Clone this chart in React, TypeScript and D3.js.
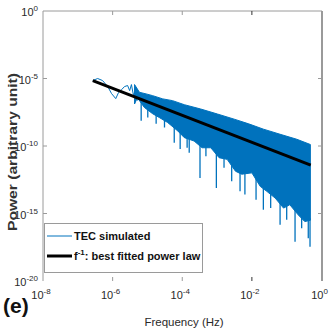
import React from "react";
import * as d3 from "d3";

const W = 332;
const H = 332;
const M = { top: 11, right: 10, bottom: 51, left: 43 };

// x: log10 of frequency (Hz), y: log10 of power
const xTickExp = [-8, -6, -4, -2, 0];
const yTickExp = [0, -5, -10, -15, -20];

// low-frequency part of the simulated spectrum (thin trace)
const traceLogF = [-6.57, -6.43, -6.29, -6.14, -6.03, -5.91, -5.83, -5.74, -5.66, -5.57, -5.51, -5.46, -5.4, -5.34, -5.29];
const traceLogP = [-5.15, -5.0, -5.15, -5.6, -6.12, -6.49, -6.04, -5.82, -5.6, -5.52, -5.9, -5.45, -6.27, -5.75, -6.64];

// dense part: upper edge of the band
const upperLogF = [-5.37, -5.23, -5.04, -4.85, -4.56, -4.28, -3.94, -3.47, -2.99, -2.51, -2.09, -1.67, -1.19, -0.71, -0.32];
const upperLogP = [-5.45, -6.02, -6.14, -6.27, -6.51, -6.64, -6.94, -7.26, -7.63, -8.01, -8.36, -8.75, -9.13, -9.5, -9.89];

// dense part: lower edge of the solid body
const bodyLogF = [-5.37, -5.29, -5.09, -4.85, -4.66, -4.42, -4.13, -3.94, -3.66, -3.43, -3.18, -2.94, -2.71, -2.47,
  -2.29, -2.0, -1.76, -1.57, -1.33, -1.09, -0.91, -0.67, -0.48, -0.32];
const bodyLogP = [-6.89, -6.42, -7.14, -7.61, -7.89, -8.26, -8.88, -9.38, -9.63, -10.13, -10.13, -10.87, -10.99, -11.87,
  -12.09, -11.99, -12.99, -13.36, -13.86, -14.6, -14.35, -15.1, -15.6, -15.5];

// downward spikes below the body (tips)
const spikeLogF = [-5.18, -4.99, -4.75, -4.51, -4.23, -4.06, -3.86, -3.8, -3.49, -3.32, -3.02, -2.8, -2.58, -2.34, -2.2,
  -1.88, -1.67, -1.46, -1.19, -1.0, -0.76, -0.57, -0.38, -0.33];
const spikeLogP = [-8.13, -7.89, -8.36, -8.63, -9.75, -10.22, -10.13, -10.5, -12.37, -10.75, -13.11, -11.62, -12.61, -13.36, -13.6,
  -13.98, -14.72, -14.6, -15.84, -15.47, -17.09, -16.1, -16.84, -17.46];

// f^-1 best fit, end points
const fitLogF = [-6.57, -0.31];
const fitLogP = [-5.15, -11.41];

const BLUE = "#0072BD";
const AXIS = "#9a9a9a";
const TXT = "#2a2a2a";
const FONT = "'Liberation Sans', Arial, sans-serif";

const toPts = (fs: number[], ps: number[]) => fs.map((f, i) => ({ f: Math.pow(10, f), p: Math.pow(10, ps[i]) }));

export default function App() {
  const x = d3.scaleLog().domain([1e-8, 1]).range([M.left, W - M.right - 0.5]);
  const y = d3.scaleLog().domain([1e-20, 1]).range([H - M.bottom, M.top]);

  const line = d3.line<{ f: number; p: number }>().x(d => x(d.f)).y(d => y(d.p));

  const trace = toPts(traceLogF, traceLogP);
  const upper = toPts(upperLogF, upperLogP);
  const body = toPts(bodyLogF, bodyLogP);
  const band = line([...upper, ...body.slice().reverse()]) + "Z";
  const spikes = toPts(spikeLogF, spikeLogP);
  const fit = toPts(fitLogF, fitLogP);

  // body edge height at a frequency
  const bodyY = (f: number) => {
    const lf = Math.log10(f);
    for (let i = 1; i < bodyLogF.length; i++) {
      if (lf <= bodyLogF[i]) {
        const t = (lf - bodyLogF[i - 1]) / (bodyLogF[i] - bodyLogF[i - 1]);
        return y(Math.pow(10, bodyLogP[i - 1] + t * (bodyLogP[i] - bodyLogP[i - 1])));
      }
    }
    return y(Math.pow(10, bodyLogP[bodyLogP.length - 1]));
  };

  const x0 = M.left, x1 = W - M.right, yTop = M.top, yBot = H - M.bottom;
  const tk = 4;

  return (
    <svg width={W} height={H} style={{ position: "absolute", left: 0, top: 0, background: "#fff" }} fontFamily={FONT}>
      {/* data */}
      <path d={band} fill={BLUE} stroke={BLUE} strokeWidth={1} strokeLinejoin="round" />
      {spikes.map((d, i) => (
        <line key={i} x1={x(d.f)} x2={x(d.f)} y1={bodyY(d.f) - 2} y2={y(d.p)} stroke={BLUE} strokeWidth={1.3} />
      ))}
      <path d={line(trace) || ""} fill="none" stroke={BLUE} strokeWidth={1} />
      <path d={line(fit) || ""} fill="none" stroke="#000" strokeWidth={3} />

      {/* frame (no bottom line, as in the figure) */}
      <line x1={x0} x2={x0} y1={yTop} y2={yBot} stroke={AXIS} strokeWidth={1} />
      <line x1={x0} x2={x1} y1={yTop} y2={yTop} stroke={AXIS} strokeWidth={1} />
      <line x1={x1} x2={x1} y1={yTop} y2={yBot} stroke={AXIS} strokeWidth={2} />

      {/* x ticks */}
      {xTickExp.map(e => {
        const px = x(Math.pow(10, e));
        return (
          <g key={"x" + e}>
            {e > -8 && e < 0 && (
              <>
                <line x1={px} x2={px} y1={yTop} y2={yTop + tk} stroke={e === -2 ? "#333" : AXIS} />
                <line x1={px} x2={px} y1={yBot} y2={yBot - tk} stroke={e === -2 ? "#333" : AXIS} />
              </>
            )}
            <text x={px - 2} y={yBot + 18} textAnchor="middle" fontSize={11} fill={TXT}>
              10<tspan dy={-5} fontSize={8}>{e === 0 ? "0" : String(e)}</tspan>
            </text>
          </g>
        );
      })}

      {/* y ticks */}
      {yTickExp.map(e => {
        const py = y(Math.pow(10, e));
        return (
          <g key={"y" + e}>
            {e < 0 && e > -20 && (
              <>
                <line x1={x0} x2={x0 + tk} y1={py} y2={py} stroke={AXIS} />
                <line x1={x1} x2={x1 - tk} y1={py} y2={py} stroke={AXIS} />
              </>
            )}
            <text x={38} y={py + 5} textAnchor="end" fontSize={11} fill={TXT}>
              10<tspan dy={-5} fontSize={8}>{e === 0 ? "0" : String(e)}</tspan>
            </text>
          </g>
        );
      })}

      {/* axis titles */}
      <text x={184} y={326} textAnchor="middle" fontSize={11.5} fill={TXT}>Frequency (Hz)</text>
      <text transform={`translate(17,152) rotate(-90)`} textAnchor="middle" fontSize={13} fontWeight="bold" fill="#333"
        textLength={158} lengthAdjust="spacingAndGlyphs">
        Power (arbitrary unit)
      </text>
      <text x={3} y={313} fontSize={21} fontWeight="bold" fill="#111">(e)</text>

      {/* legend */}
      <rect x={44.5} y={223.5} width={158} height={49} fill="#fff" stroke={AXIS} strokeWidth={1} />
      <line x1={47} x2={72} y1={236} y2={236} stroke={BLUE} strokeWidth={1} />
      <text x={74} y={240} fontSize={11} fontWeight="bold" fill="#111">TEC simulated</text>
      <line x1={47} x2={72} y1={256} y2={256} stroke="#000" strokeWidth={3} />
      <text x={74} y={260} fontSize={11} fontWeight="bold" fill="#111">
        f<tspan dy={-5} fontSize={8}>-1</tspan><tspan dy={5}>: best fitted power law</tspan>
      </text>
    </svg>
  );
}
